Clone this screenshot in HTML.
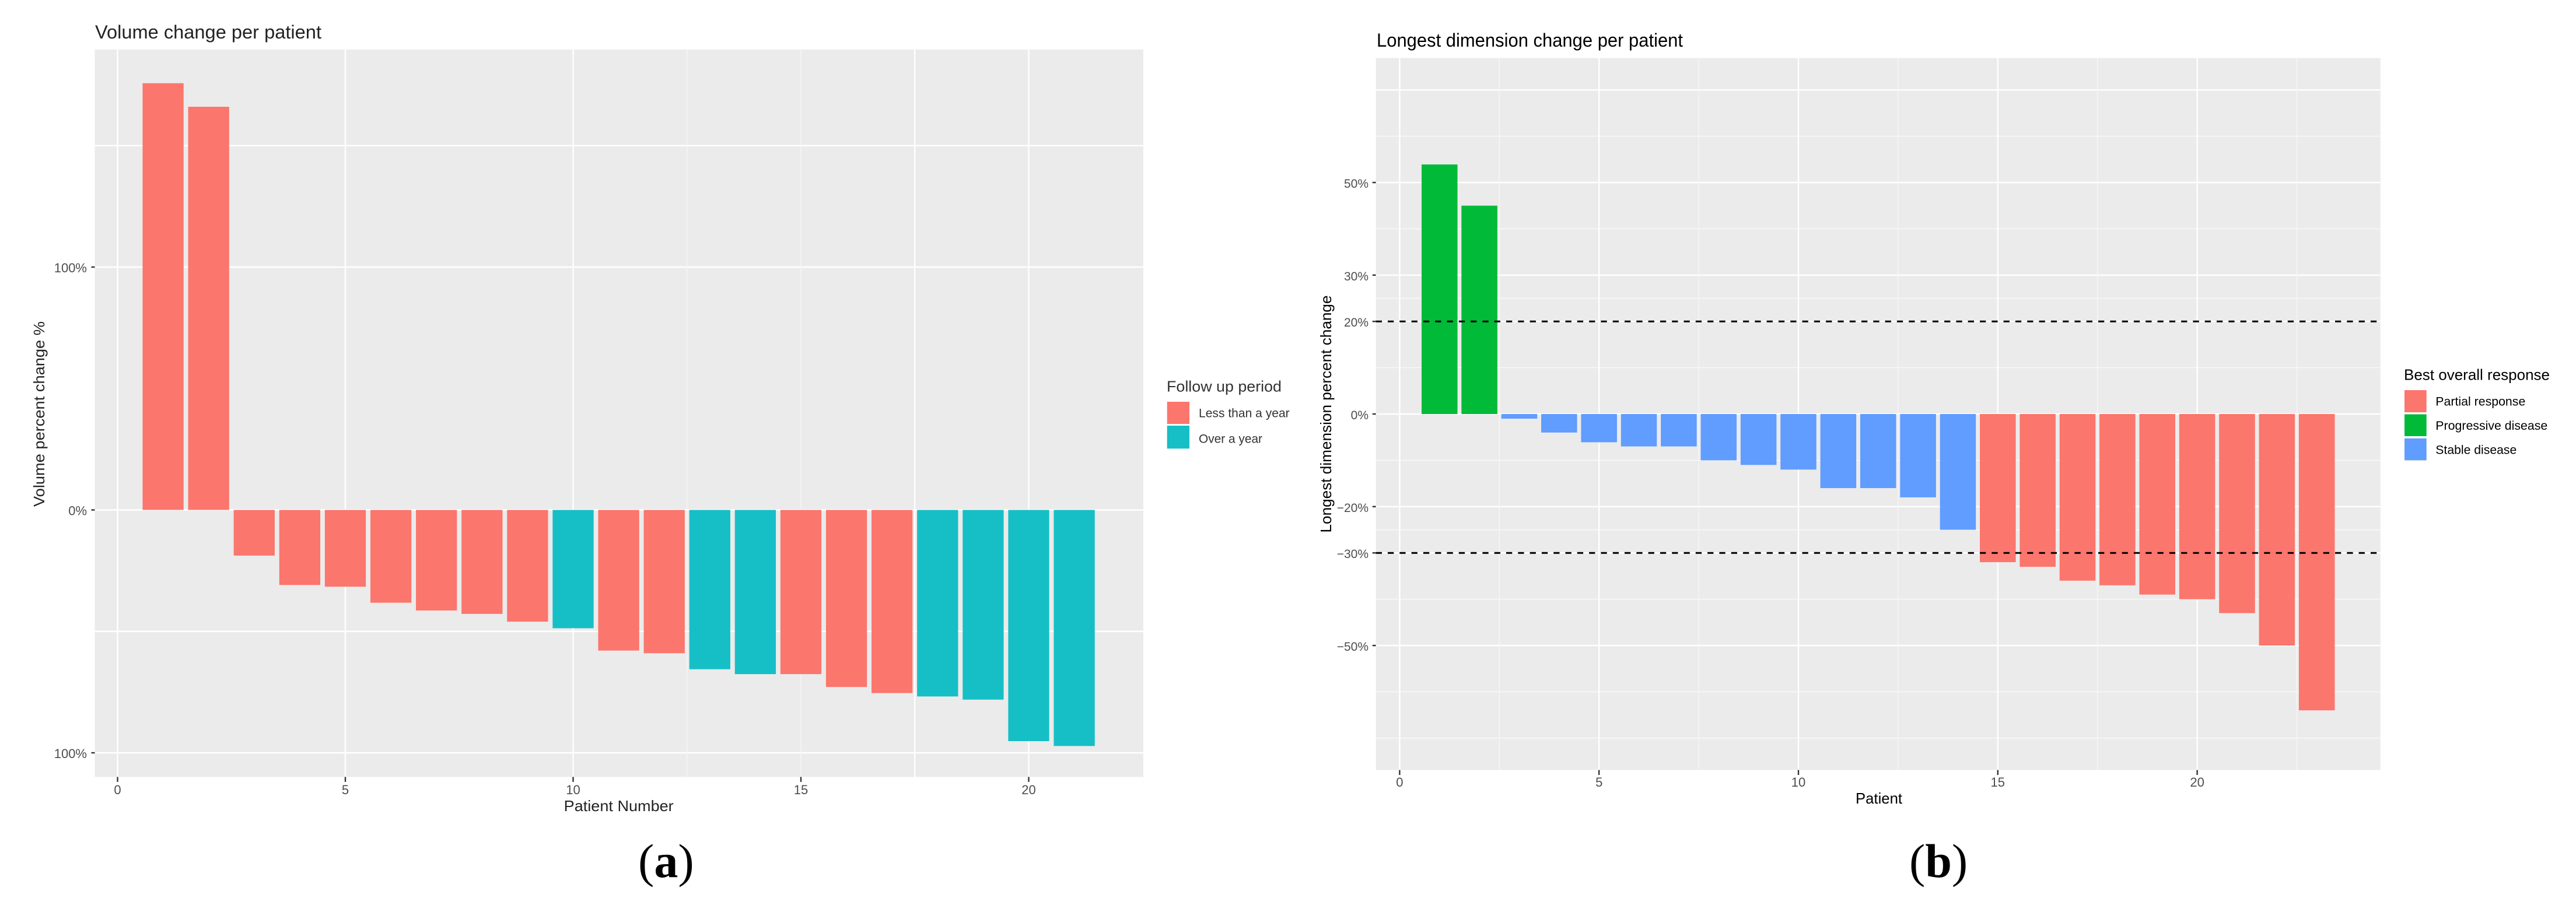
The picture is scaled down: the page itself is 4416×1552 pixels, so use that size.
<!DOCTYPE html>
<html lang="en">
<head>
<meta charset="utf-8">
<title>Volume and longest dimension change per patient</title>
<style>
  html, body { margin: 0; padding: 0; background: #ffffff; }
  svg { display: block; font-family: "Liberation Sans", sans-serif; }
</style>
</head>
<body>
<svg xmlns="http://www.w3.org/2000/svg" width="4416" height="1552" viewBox="0 0 4416 1552">
  <rect x="0" y="0" width="4416" height="1552" fill="#ffffff"></rect>

  <g id="chart-a">
    <rect x="162.5" y="85" width="1797.5" height="1247.4" fill="#EBEBEB"></rect>
    <g id="a-grid"></g>
    <g id="a-bars"></g>
    <g id="a-axes"></g>
    <text x="163" y="66" font-size="32" fill="#222" textLength="388" lengthAdjust="spacingAndGlyphs">Volume change per patient</text>
    <text transform="translate(75.8 710) rotate(-90)" text-anchor="middle" font-size="26" fill="#222" textLength="318" lengthAdjust="spacingAndGlyphs">Volume percent change %</text>
    <text x="966.7" y="1391" font-size="26" fill="#222" textLength="188" lengthAdjust="spacingAndGlyphs">Patient Number</text>
    <g>
      <text x="2000" y="671.7" font-size="26" fill="#333" textLength="197" lengthAdjust="spacingAndGlyphs">Follow up period</text>
      <rect x="2000.7" y="689" width="38.3" height="38" fill="#FB766D"></rect>
      <text x="2055" y="715.7" font-size="21" fill="#333" textLength="155.7" lengthAdjust="spacingAndGlyphs">Less than a year</text>
      <rect x="2000.7" y="730" width="38.3" height="39.3" fill="#16BFC6"></rect>
      <text x="2055" y="759.3" font-size="21" fill="#333" textLength="109" lengthAdjust="spacingAndGlyphs">Over a year</text>
    </g>
    <text x="1094" y="1504" font-family="'Liberation Serif', serif" font-size="82" fill="#000">(<tspan font-weight="bold">a</tspan>)</text>
  </g>

  <g id="chart-b">
    <rect x="2358.7" y="99.5" width="1722.1" height="1221" fill="#EBEBEB"></rect>
    <g id="b-grid"></g>
    <g id="b-bars"></g>
    <g id="b-refs"></g>
    <g id="b-axes"></g>
    <text x="2360" y="80" font-size="32" fill="#000" textLength="525" lengthAdjust="spacingAndGlyphs">Longest dimension change per patient</text>
    <text transform="translate(2282 710) rotate(-90)" text-anchor="middle" font-size="26" fill="#000" textLength="407" lengthAdjust="spacingAndGlyphs">Longest dimension percent change</text>
    <text x="3181" y="1378" font-size="26" fill="#000" textLength="80" lengthAdjust="spacingAndGlyphs">Patient</text>
    <g>
      <text x="4121" y="651.3" font-size="26" fill="#000" textLength="250" lengthAdjust="spacingAndGlyphs">Best overall response</text>
      <rect x="4122" y="669" width="37.7" height="38" fill="#FB766D"></rect>
      <text x="4175.3" y="695.7" font-size="21" fill="#000" textLength="154" lengthAdjust="spacingAndGlyphs">Partial response</text>
      <rect x="4122" y="710.5" width="37.7" height="37.5" fill="#00BA38"></rect>
      <text x="4175.3" y="736.9" font-size="21" fill="#000" textLength="192" lengthAdjust="spacingAndGlyphs">Progressive disease</text>
      <rect x="4122" y="751.8" width="37.7" height="37.6" fill="#619CFF"></rect>
      <text x="4175.3" y="778.3" font-size="21" fill="#000" textLength="139" lengthAdjust="spacingAndGlyphs">Stable disease</text>
    </g>
    <text x="3273" y="1504" font-family="'Liberation Serif', serif" font-size="82" fill="#000">(<tspan font-weight="bold">b</tspan>)</text>
  </g>
</svg>

<script>
// Chart (a): volume change per patient
const volumePatients = [1,2,3,4,5,6,7,8,9,10,11,12,13,14,15,16,17,18,19,20,21];
const volumeValues = [175.7,166,-18.8,-30.9,-31.6,-38.2,-41.4,-42.8,-46,-48.7,-57.9,-59,-65.6,-67.6,-67.6,-72.9,-75.4,-76.8,-78.1,-95.2,-97.2];
const volumeGroups = ["less","less","less","less","less","less","less","less","less","over","less","less","over","over","less","less","less","over","over","over","over"];
const volumeXTicks = [0,5,10,15,20];
const volumeYTicks = [100,0,-100];
const volumeYTickLabels = ["100%","0%","100%"];
const volumeGridXMajor = [0,5,10,17.5,20];
const volumeGridXMinor = [12.5,15];
const volumeGridYMajor = [150,100,0,-50,-100];
const volumeGridYMinor = [];

// Chart (b): longest dimension change per patient
const dimensionPatients = [1,2,3,4,5,6,7,8,9,10,11,12,13,14,15,16,17,18,19,20,21,22,23];
const dimensionValues = [53.9,45,-1,-4,-6.1,-7,-7,-10,-11,-12,-16,-16,-18,-25,-32,-33,-36,-37,-39,-40,-43,-50,-64];
const dimensionGroups = ["progressive","progressive","stable","stable","stable","stable","stable","stable","stable","stable","stable","stable","stable","stable","partial","partial","partial","partial","partial","partial","partial","partial","partial"];
const dimensionXTicks = [0,5,10,15,20];
const dimensionYTicks = [50,30,20,0,-20,-30,-50];
const dimensionYTickLabels = ["50%","30%","20%","0%","\u221220%","\u221230%","\u221250%"];
const dimensionGridXMajor = [0,5,10,15,20];
const dimensionGridXMinor = [2.5,7.5,12.5,17.5,22.5];
const dimensionGridYMajor = [70,50,30,20,0,-20,-30,-50];
const dimensionGridYMinor = [60,40,25,10,-10,-25,-40,-60,-70];
const dimensionReferenceLines = [20,-30];

const SVG_NS = "http://www.w3.org/2000/svg";
const groupColors = { less: "#FB766D", over: "#16BFC6", partial: "#FB766D", progressive: "#00BA38", stable: "#619CFF" };
const BAR_WIDTH = 0.9;

function make(tag, attrs, parent) {
  const el = document.createElementNS(SVG_NS, tag);
  for (const k in attrs) el.setAttribute(k, attrs[k]);
  parent.appendChild(el);
  return el;
}

function drawChart(cfg) {
  const grid = document.getElementById(cfg.prefix + "-grid");
  const barsG = document.getElementById(cfg.prefix + "-bars");
  const axes = document.getElementById(cfg.prefix + "-axes");

  cfg.gridYMinor.forEach(function (v) {
    const el = make("line", { x1: cfg.left, x2: cfg.right, y1: cfg.y(v), y2: cfg.y(v), stroke: "#FAFAFA", "stroke-width": 1.4 }, grid);
    
    
  });
  cfg.gridYMajor.forEach(function (v) {
    const el = make("line", { x1: cfg.left, x2: cfg.right, y1: cfg.y(v), y2: cfg.y(v), stroke: "#FFFFFF", "stroke-width": 2.4 }, grid);
    
    
  });
  cfg.gridXMinor.forEach(function (v) {
    const el = make("line", { x1: cfg.x(v), x2: cfg.x(v), y1: cfg.top, y2: cfg.bottom, stroke: "#F6F6F6", "stroke-width": 1.5 }, grid);
    
    
  });
  cfg.gridXMajor.forEach(function (v) {
    const el = make("line", { x1: cfg.x(v), x2: cfg.x(v), y1: cfg.top, y2: cfg.bottom, stroke: "#FFFFFF", "stroke-width": 2.4 }, grid);
    
    
  });

  cfg.values.forEach(function (v, i) {
    const p = cfg.patients[i];
    const x0 = cfg.x(p - BAR_WIDTH / 2);
    const x1 = cfg.x(p + BAR_WIDTH / 2);
    const yTop = cfg.y(Math.max(v, 0));
    const yBot = cfg.y(Math.min(v, 0));
    const el = make("rect", { x: x0, y: yTop, width: x1 - x0, height: yBot - yTop, fill: groupColors[cfg.groups[i]] }, barsG);
    
    
  });

  (cfg.refs || []).forEach(function (v) {
    const container = document.getElementById(cfg.prefix + "-refs");
    const el = make("line", { x1: cfg.left, x2: cfg.right, y1: cfg.y(v), y2: cfg.y(v), stroke: "#000", "stroke-width": 3, "stroke-dasharray": "10.3 10" }, container);
    
    
  });

  cfg.xTicks.forEach(function (v) {
    const t = make("line", { x1: cfg.x(v), x2: cfg.x(v), y1: cfg.bottom, y2: cfg.bottom + 8.5, stroke: "#333", "stroke-width": 2.4 }, axes);
    
    
    const l = make("text", { x: cfg.x(v), y: cfg.xLabelY, "text-anchor": "middle", "font-size": 22, fill: "#4D4D4D" }, axes);
    l.textContent = String(v);
    
    
  });
  cfg.yTicks.forEach(function (v, i) {
    const t = make("line", { x1: cfg.left - 6, x2: cfg.left, y1: cfg.y(v), y2: cfg.y(v), stroke: "#333", "stroke-width": 2.4 }, axes);
    
    
    const l = make("text", { x: cfg.yLabelX, y: cfg.y(v) + 9, "text-anchor": "end", "font-size": cfg.yFont, fill: "#4D4D4D" }, axes);
    l.textContent = cfg.yLabels[i];
    
    
  });
}

function xVolume(v) { return 201.5 + v * 78.1; }
function yVolume(v) { return 874.5 - v * 4.165; }
function xDimension(v) { return 2399.4 + v * 68.36; }
function yDimension(v) { return 710 - v * 7.94; }

drawChart({
  prefix: "a", left: 162.5, right: 1960, top: 85, bottom: 1332.4,
  x: xVolume, y: yVolume,
  patients: volumePatients, values: volumeValues, groups: volumeGroups,
  xTicks: volumeXTicks, yTicks: volumeYTicks, yLabels: volumeYTickLabels,
  gridXMajor: volumeGridXMajor, gridXMinor: volumeGridXMinor,
  gridYMajor: volumeGridYMajor, gridYMinor: volumeGridYMinor,
  xLabelY: 1362, yLabelX: 149, yFont: 22
});

drawChart({
  prefix: "b", left: 2358.7, right: 4080.8, top: 99.5, bottom: 1320.5,
  x: xDimension, y: yDimension,
  patients: dimensionPatients, values: dimensionValues, groups: dimensionGroups,
  xTicks: dimensionXTicks, yTicks: dimensionYTicks, yLabels: dimensionYTickLabels,
  gridXMajor: dimensionGridXMajor, gridXMinor: dimensionGridXMinor,
  gridYMajor: dimensionGridYMajor, gridYMinor: dimensionGridYMinor,
  refs: dimensionReferenceLines,
  xLabelY: 1349, yLabelX: 2346, yFont: 21
});
</script>
</body>
</html>
